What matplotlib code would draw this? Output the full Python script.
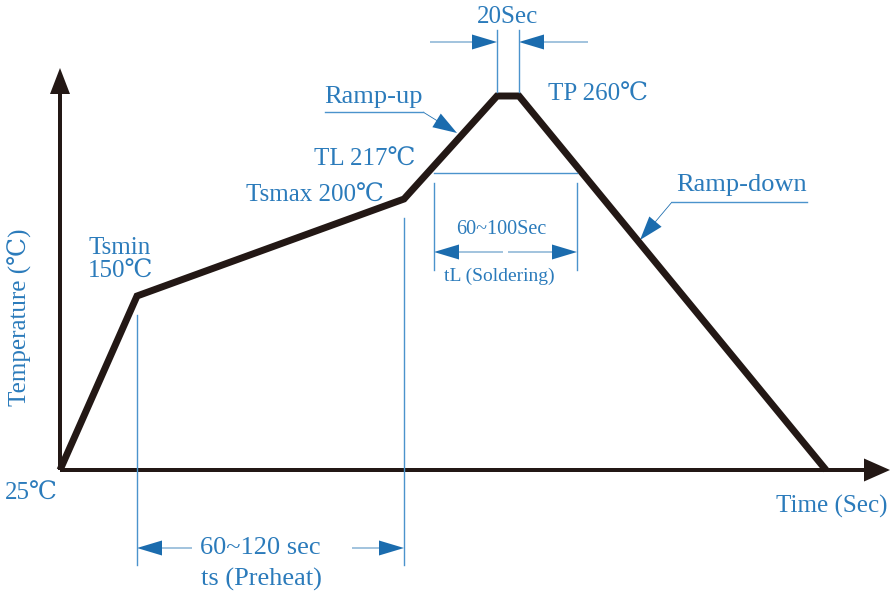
import matplotlib.pyplot as plt

# schematic reflow profile (arbitrary time units / height above 25C baseline)
time_pts = [0, 77, 344, 437, 459, 766]
temp_pts = [0, 174, 271, 374, 374, 0]
point_labels = ["25℃", "Tsmin\n150℃", "Tsmax 200℃", "TL 217℃", "TP 260℃"]

# liquidus level and where it crosses the profile
tl_level = 297
tl_span = [374, 517]

# zone texts
preheat_txt = ["60~120 sec", "ts (Preheat)"]
solder_txt = ["60~100Sec", "tL (Soldering)"]
peak_txt = "20Sec"

blue = '#2b7bbb'
dark_blue = '#1b6cae'
line_blue = '#4b93cc'
black = '#231815'
fonts = ['Liberation Serif', 'DejaVu Serif']
plt.rcParams['font.family'] = fonts

fig = plt.figure(figsize=(8.9, 5.97), dpi=100)
ax = fig.add_axes([0, 0, 1, 1])
ax.set_xlim(-60, 830)
ax.set_ylim(-127, 470)
ax.axis('off')

def arr(x0, y0, x1, y1, hw=15, hl=25):
    ax.arrow(x0, y0, x1 - x0, y1 - y0, width=0.8, head_width=hw, head_length=hl,
             length_includes_head=True, color=dark_blue, lw=0)

# axes with arrows
ax.arrow(0, 0, 0, 402, width=4, head_width=20, head_length=26,
         length_includes_head=True, color=black, lw=0)
ax.arrow(0, 0, 830, 0, width=4, head_width=23, head_length=26,
         length_includes_head=True, color=black, lw=0)

# profile
ax.plot(time_pts, temp_pts, color=black, lw=5, solid_joinstyle='miter',
        solid_capstyle='butt')

# preheat zone
ax.plot([time_pts[1]] * 2, [155, -95], color=line_blue, lw=1)
ax.plot([time_pts[2]] * 2, [252, -95], color=line_blue, lw=1)
arr(time_pts[1] + 55, -78, time_pts[1], -78)
arr(time_pts[2] - 52, -78, time_pts[2], -78)
ax.text(200, -78, preheat_txt[0], color=blue, fontsize=19, ha='center', va='center')
ax.text(201, -109, preheat_txt[1], color=blue, fontsize=19, ha='center', va='center')

# peak time
for x in time_pts[3:5]:
    ax.plot([x, x], [378, 440], color=line_blue, lw=1)
arr(time_pts[3] - 67, 428, time_pts[3], 428)
arr(time_pts[4] + 69, 428, time_pts[4], 428)
ax.text((time_pts[3] + time_pts[4]) / 2, 453, peak_txt, color=blue, fontsize=18,
        ha='center', va='center')

# liquidus time
ax.plot(tl_span, [tl_level, tl_level], color=line_blue, lw=1)
for x in tl_span:
    ax.plot([x, x], [287, 200], color=line_blue, lw=1)
arr(tl_span[0] + 69, 218, tl_span[0], 218)
arr(tl_span[1] - 69, 218, tl_span[1], 218)
ax.text(441, 240, solder_txt[0], color=blue, fontsize=14.5, ha='center', va='center')
ax.text(439, 194, solder_txt[1], color=blue, fontsize=14, ha='center', va='center')

# point labels
ax.text(-29, -24, point_labels[0], color=blue, fontsize=18, ha='center', va='center')
ax.text(28, 210, point_labels[1], color=blue, fontsize=18, ha='left', va='center',
        linespacing=1.1)
ax.text(324, 274, point_labels[2], color=blue, fontsize=18, ha='right', va='center')
ax.text(355, 310, point_labels[3], color=blue, fontsize=18, ha='right', va='center')
ax.text(488, 375, point_labels[4], color=blue, fontsize=18, ha='left', va='center')

# ramp callouts
ax.text(313, 373, "Ramp-up", color=blue, fontsize=19, ha='center', va='center')
ax.plot([265, 363], [358, 358], color=line_blue, lw=1)
arr(363, 358, 397, 337, hw=16, hl=24)
ax.text(682, 285, "Ramp-down", color=blue, fontsize=19, ha='center', va='center')
ax.plot([612, 747], [268, 268], color=line_blue, lw=1)
arr(612, 268, 580, 230, hw=16, hl=24)

# axis titles
ax.text(-40, 153, "Temperature (℃)", color=blue, fontsize=18, rotation=90,
        ha='center', va='center')
ax.text(828, -36, "Time (Sec)", color=blue, fontsize=18, ha='right', va='center')

fig.savefig('out.png', dpi=100)
